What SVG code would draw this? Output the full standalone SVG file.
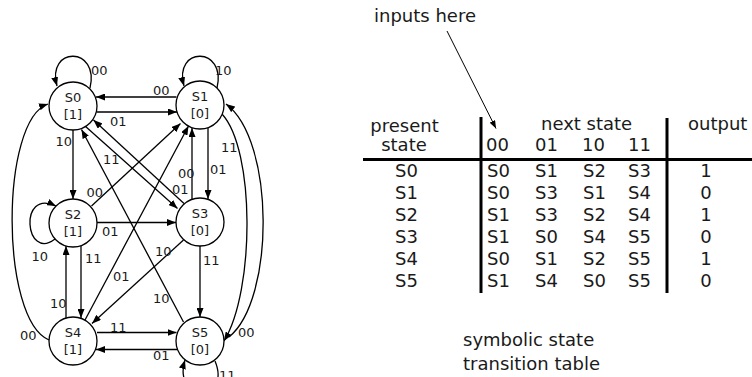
<svg xmlns="http://www.w3.org/2000/svg" width="752" height="377" viewBox="0 0 752 377">
  <style>
    .node circle { fill: #ffffff; stroke: #000000; stroke-width: 1.3; }
    .node text { font-family: "DejaVu Sans", Verdana, sans-serif; font-size: 13px; fill: #1a1a1a; text-anchor: middle; }
    .edge { fill: none; stroke: #000000; stroke-width: 1.3; marker-end: url(#arr); }
    .plain { fill: none; stroke: #000000; stroke-width: 1.3; }
    .lbl { font-family: "DejaVu Sans", Verdana, sans-serif; font-size: 13px; fill: #1a1a1a; }
    .tbl { font-family: "DejaVu Sans", Verdana, sans-serif; font-size: 18px; fill: #1a1a1a; }
    .mid { text-anchor: middle; }
    .rule { stroke: #000000; stroke-width: 3; }
  </style>
  <defs>
    <marker id="arr" viewBox="0 0 9 7" refX="9" refY="3.5" markerWidth="9" markerHeight="7" markerUnits="userSpaceOnUse" orient="auto">
      <path d="M0,0 L9,3.5 L0,7 z" fill="#000000"/>
    </marker>
    <marker id="arrs" viewBox="0 0 8 6" refX="8" refY="3" markerWidth="8" markerHeight="6" markerUnits="userSpaceOnUse" orient="auto">
      <path d="M0,0 L8,3 L0,6 z" fill="#000000"/>
    </marker>
  </defs>

  <rect width="752" height="377" fill="#ffffff"/>

  <!-- state transition graph: connectors -->
  <g id="connectors">
    <!-- self loops -->
    <path class="edge" d="M90 88 C100 46, 46 46, 57 86"/>
    <path class="edge" d="M217 88 C227 46, 173 46, 184 86"/>
    <path class="edge" d="M55 239 C25 262, 18 188, 56 206"/>
    <path class="edge" d="M215 361 C232 402, 172 402, 185 360"/>
    <!-- horizontals -->
    <path class="edge" d="M176.5 97 L96 97"/>
    <path class="edge" d="M96.5 112 L177 112"/>
    <path class="edge" d="M97 222.5 L176 222.5"/>
    <path class="edge" d="M97 332.5 L176.5 332.5"/>
    <path class="edge" d="M177.5 349.5 L96 349.5"/>
    <!-- verticals -->
    <path class="edge" d="M73 130 L73 199"/>
    <path class="edge" d="M66 318 L66 246"/>
    <path class="edge" d="M81 245.6 L81 318"/>
    <path class="edge" d="M192 199 L192 128"/>
    <path class="edge" d="M208 127.6 L208 199"/>
    <path class="edge" d="M200 246 L200 317"/>
    <!-- diagonals -->
    <path class="edge" d="M85 126 L177.5 208.5"/>
    <path class="edge" d="M184 203.5 L93.5 120"/>
    <path class="edge" d="M91.5 206 L180.5 123.5"/>
    <path class="edge" d="M85 320 L188.5 126"/>
    <path class="edge" d="M183.5 322 L81.5 129.5"/>
    <path class="edge" d="M183.5 240 L92 323.5"/>
    <!-- outer arcs -->
    <path class="edge" d="M49 340 C0 320, 0 120, 48 104"/>
    <path class="edge" d="M229 337 C275 300, 275 140, 226 104"/>
    <path class="edge" d="M222 114 C255 150, 255 290, 224 341"/>
  </g>

  <!-- connector labels -->
  <g id="edge-labels" class="lbl">
    <text x="91" y="75">00</text>
    <text x="215" y="75">10</text>
    <text x="153" y="95">00</text>
    <text x="110" y="126">01</text>
    <text x="55.5" y="146">10</text>
    <text x="103" y="164">11</text>
    <text x="172" y="194">01</text>
    <text x="178" y="178">00</text>
    <text x="210" y="174">01</text>
    <text x="221" y="152">11</text>
    <text x="86.5" y="197">00</text>
    <text x="102" y="236">01</text>
    <text x="31.5" y="261">10</text>
    <text x="85" y="263">11</text>
    <text x="155" y="256">10</text>
    <text x="203" y="265">11</text>
    <text x="113" y="281">01</text>
    <text x="50" y="308">10</text>
    <text x="153" y="303">10</text>
    <text x="110" y="331.5">11</text>
    <text x="20" y="340">00</text>
    <text x="238" y="337">00</text>
    <text x="153" y="360">01</text>
    <text x="219" y="380">11</text>
  </g>

  <!-- states -->
  <g id="S0" class="node"><circle cx="73" cy="106" r="24"/><text x="73" y="102">S0</text><text x="73" y="119">[1]</text></g>
  <g id="S1" class="node"><circle cx="200" cy="105" r="24"/><text x="200" y="101">S1</text><text x="200" y="118">[0]</text></g>
  <g id="S2" class="node"><circle cx="73" cy="223" r="24"/><text x="73" y="219">S2</text><text x="73" y="236">[1]</text></g>
  <g id="S3" class="node"><circle cx="200" cy="222" r="24"/><text x="200" y="218">S3</text><text x="200" y="235">[0]</text></g>
  <g id="S4" class="node"><circle cx="73" cy="341" r="24"/><text x="73" y="337">S4</text><text x="73" y="354">[1]</text></g>
  <g id="S5" class="node"><circle cx="200" cy="341" r="24"/><text x="200" y="337">S5</text><text x="200" y="354">[0]</text></g>

  <!-- symbolic state transition table -->
  <g id="table" class="tbl">
    <text x="374" y="22">inputs here</text>
    <line x1="447" y1="31" x2="496" y2="128.5" stroke="#000000" stroke-width="1" marker-end="url(#arrs)"/>

    <text class="mid" x="404.5" y="131.5">present</text>
    <text class="mid" x="404" y="151">state</text>
    <text x="541" y="130">next state</text>
    <text x="688" y="130">output</text>
    <text x="486" y="151">00</text>
    <text x="535" y="151">01</text>
    <text x="582" y="151">10</text>
    <text x="628" y="151">11</text>

    <line class="rule" x1="363" y1="159.5" x2="752" y2="159.5"/>
    <line class="rule" x1="481" y1="117" x2="481" y2="293"/>
    <line class="rule" x1="667" y1="118" x2="667" y2="293"/>

    <g class="mid">
      <text x="406.5" y="177">S0</text>
      <text x="406.5" y="199">S1</text>
      <text x="406.5" y="221">S2</text>
      <text x="406.5" y="243">S3</text>
      <text x="406.5" y="265">S4</text>
      <text x="406.5" y="287">S5</text>
    </g>
    <text x="487" y="177">S0</text><text x="535" y="177">S1</text><text x="583" y="177">S2</text><text x="628" y="177">S3</text>
    <text x="487" y="199">S0</text><text x="535" y="199">S3</text><text x="583" y="199">S1</text><text x="628" y="199">S4</text>
    <text x="487" y="221">S1</text><text x="535" y="221">S3</text><text x="583" y="221">S2</text><text x="628" y="221">S4</text>
    <text x="487" y="243">S1</text><text x="535" y="243">S0</text><text x="583" y="243">S4</text><text x="628" y="243">S5</text>
    <text x="487" y="265">S0</text><text x="535" y="265">S1</text><text x="583" y="265">S2</text><text x="628" y="265">S5</text>
    <text x="487" y="287">S1</text><text x="535" y="287">S4</text><text x="583" y="287">S0</text><text x="628" y="287">S5</text>
    <g class="mid">
      <text x="706" y="177">1</text>
      <text x="706" y="199">0</text>
      <text x="706" y="221">1</text>
      <text x="706" y="243">0</text>
      <text x="706" y="265">1</text>
      <text x="706" y="287">0</text>
    </g>

    <text x="463" y="346">symbolic state</text>
    <text x="463" y="370">transition table</text>
  </g>
</svg>
